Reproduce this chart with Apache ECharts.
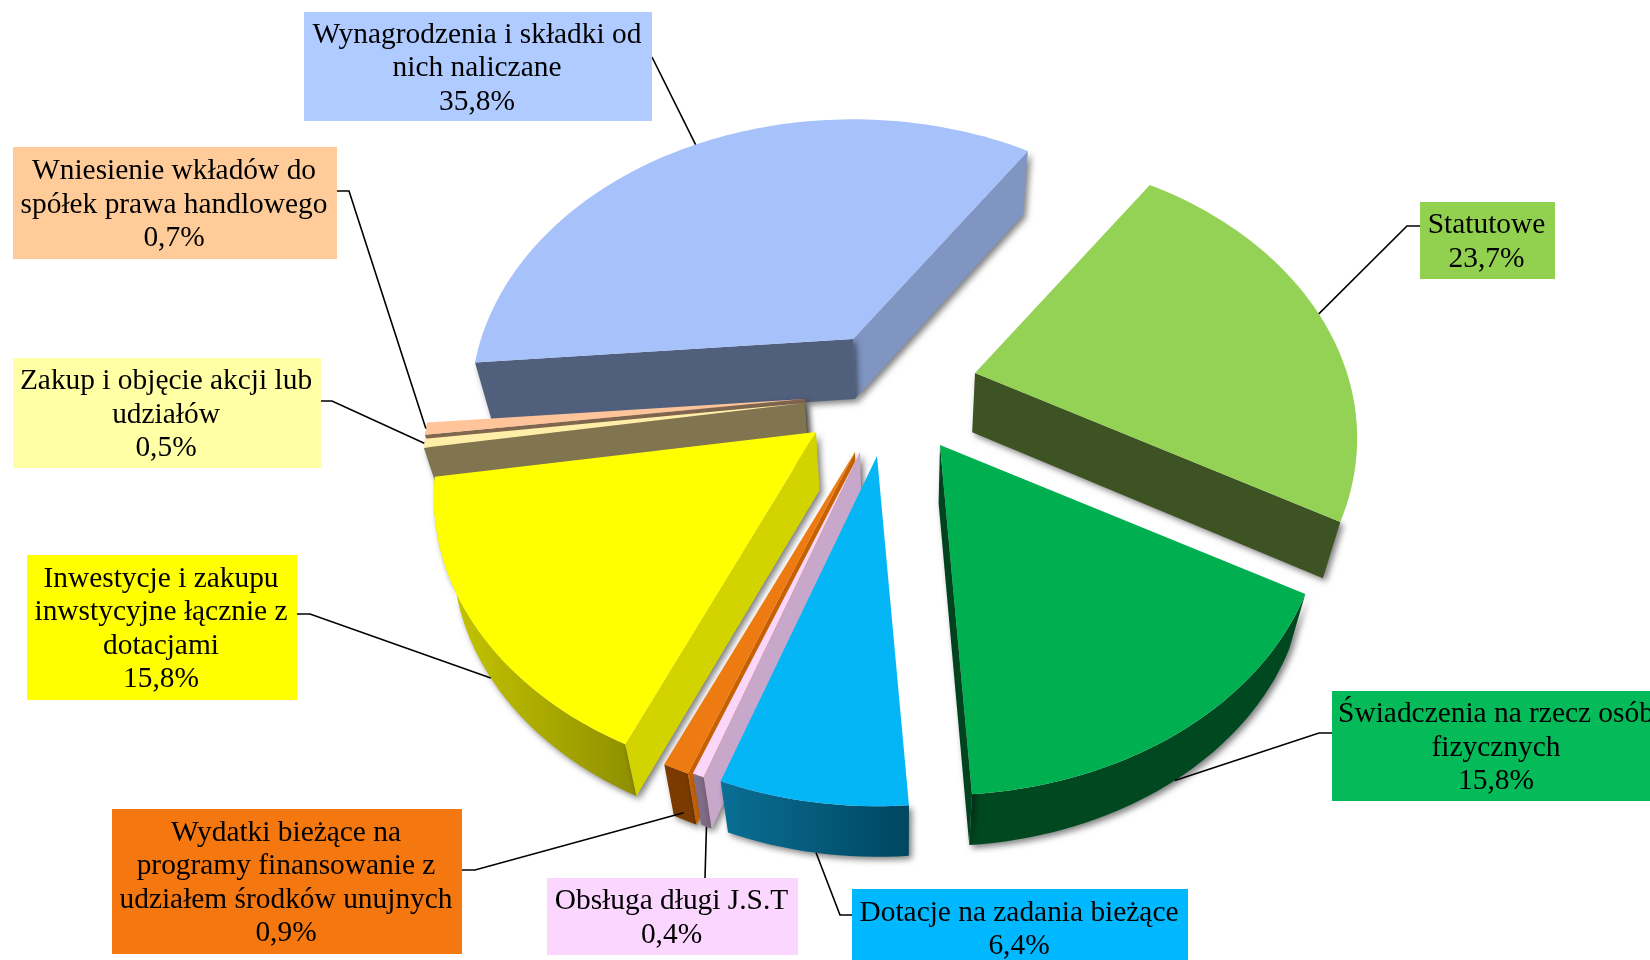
<!DOCTYPE html>
<html>
<head>
<meta charset="utf-8">
<style>html,body{margin:0;padding:0;background:#fff;overflow:hidden}#chart{width:1650px;height:960px}</style>
<script src="https://cdn.jsdelivr.net/npm/echarts@6/dist/echarts.min.js"></script>
</head>
<body>
<div id="chart"></div>
<script>
var names = ['Statutowe', 'Świadczenia na rzecz osób\nfizycznych', 'Dotacje na zadania bieżące', 'Obsługa długi J.S.T',
    'Wydatki bieżące na\nprogramy finansowanie z\nudziałem środków unujnych', 'Inwestycje i zakupu\ninwstycyjne łącznie z\ndotacjami',
    'Zakup i objęcie akcji lub\nudziałów', 'Wniesienie wkładów do\nspółek prawa handlowego', 'Wynagrodzenia i składki od\nnich naliczane'];
var values = [23.7, 15.8, 6.4, 0.4, 0.9, 15.8, 0.5, 0.7, 35.8];

// look of each slice, same order as values, null = wall not seen
var tops = ['#93d255', '#00b050', '#05b6f7', '#fbd6fb', '#ee7a12', '#ffff00', '#ffeea8', '#ffc499', '#a7c1fb'];
var boxes = ['#92d050', '#05ba58', '#00b8ff', '#fbd6ff', '#f4770f', '#ffff00', '#ffffa6', '#ffcb99', '#afcbff'];
var startWalls = [null, null, null, '#c7a8ca', '#c76100', '#d3d300', '#80754f', '#80654f', '#505f7b'];
var endWalls = ['#3d5323', '#00431f', null, null, null, null, null, null, '#8095c2'];
var outerFrom = [null, '#004820', '#0a6f95', '#85708a', '#7a3a00', '#c9c900', null, null, null];
var outerTo = [null, '#004820', '#004660', '#7a6680', '#7a3a00', '#8f8f00', null, null, null];
var apexes = [[975, 373], [940, 445], [877, 456], [860, 452], [855, 452], [816, 432], [805, 403], [805, 399], [853, 339]];
var paintOrder = [8, 9, 7, 6, 5, 4, 3, 2, 1];

// label box [x0, y0, x1, y1] and leader [box edge, elbow]
var labelBoxes = [[1420, 202, 1555, 279], [1332, 691, 1662, 801], [852, 889, 1188, 967], [547, 878, 798, 955],
    [112, 809, 462, 954], [27, 555, 297, 700], [13, 358, 321, 468], [13, 147, 337, 259], [304, 12, 652, 121]];
var leaders = [[[1420, 226], [1407, 226]], [[1332, 733], [1319, 733]], [[852, 915], [840, 915]], [[705, 878], [705, 878]],
    [[462, 870], [475, 870]], [[297, 614], [310, 614]], [[321, 401], [332, 401]], [[337, 191], [349, 191]], [[652, 57], [652, 57]]];
var leaderDepth = [0, 1, 1, 1, 0.85, 1, 0, 0, 0];

var startAngle = -56;
var rx = 372, ry = 270, persp = 0.229;

function project(apex, deg) {
    var t = deg * Math.PI / 180;
    var X = Math.cos(t), Y = Math.sin(t);
    var w = 1 - persp * Y;
    return [apex[0] + rx * X / w, apex[1] + ry * Y / w];
}

// the lower edge of a point of the pie, the walls converge a bit
function lower(p, f) {
    if (f === undefined) f = 1;
    return [p[0] - (p[0] - 905) * 0.04 * f, p[1] + (60 - (p[1] - 339) * 0.02) * f];
}

function arcPoints(apex, a0, a1) {
    var n = Math.max(2, Math.ceil((a1 - a0) / 1.5));
    var pts = [];
    for (var i = 0; i <= n; i++) pts.push(project(apex, a0 + (a1 - a0) * i / n));
    return pts;
}

function poly(points, fill, z2, shadow) {
    var style = { fill: fill };
    if (shadow) {
        style.shadowBlur = 6;
        style.shadowColor = 'rgba(0,0,0,0.5)';
        style.shadowOffsetX = 3;
        style.shadowOffsetY = 3;
    }
    return { type: 'polygon', shape: { points: points }, style: style, z2: z2 };
}

var total = 0;
var starts = [];
for (var i = 0; i < values.length; i++) {
    starts.push(total);
    total += values[i];
}

function renderSlice(params, api) {
    var i = params.dataIndex;
    var a0 = startAngle + starts[i] / total * 360;
    var a1 = a0 + api.value(0) / total * 360;
    var apex = apexes[i];
    var arc = arcPoints(apex, a0, a1);
    var z = paintOrder[i] * 10 + 10;
    var kids = [];

    if (outerFrom[i]) {
        var lowArc = arc.map(function (p) { return lower(p); }).reverse();
        kids.push(poly(arc.concat(lowArc), new echarts.graphic.LinearGradient(0, 0, 1, 0, [
            { offset: 0, color: outerFrom[i] }, { offset: 1, color: outerTo[i] }
        ]), z, true));
    }
    var first = arc[0], last = arc[arc.length - 1];
    if (endWalls[i]) kids.push(poly([apex, last, lower(last), lower(apex)], endWalls[i], z + 1, true));
    if (startWalls[i]) kids.push(poly([apex, first, lower(first), lower(apex)], startWalls[i], z + 2, true));
    kids.push(poly([apex].concat(arc), tops[i], z + 3, false));

    // leader line goes to the middle of the outer edge
    var mid = lower(project(apex, (a0 + a1) / 2), leaderDepth[i]);
    kids.push({
        type: 'polyline',
        shape: { points: [leaders[i][0], leaders[i][1], mid] },
        style: { stroke: '#000', lineWidth: 1.6, fill: null },
        z2: 500
    });

    var b = labelBoxes[i];
    kids.push({
        type: 'rect',
        shape: { x: b[0], y: b[1], width: b[2] - b[0], height: b[3] - b[1] },
        style: { fill: boxes[i] },
        z2: 600
    });
    kids.push({
        type: 'text',
        style: {
            text: names[i] + '\n' + api.value(0).toFixed(1).replace('.', ',') + '%',
            x: (b[0] + b[2]) / 2 - 1,
            y: (b[1] + b[3]) / 2 + 2,
            align: 'center',
            verticalAlign: 'middle',
            font: '29.4px "Liberation Serif"',
            lineHeight: 33.5,
            fill: '#000'
        },
        z2: 601
    });
    return { type: 'group', children: kids };
}

var chart = echarts.init(document.getElementById('chart'));
chart.setOption({
    backgroundColor: '#fff',
    animation: false,
    series: [{
        type: 'custom',
        coordinateSystem: 'none',
        renderItem: renderSlice,
        data: values
    }]
});
</script>
</body>
</html>
